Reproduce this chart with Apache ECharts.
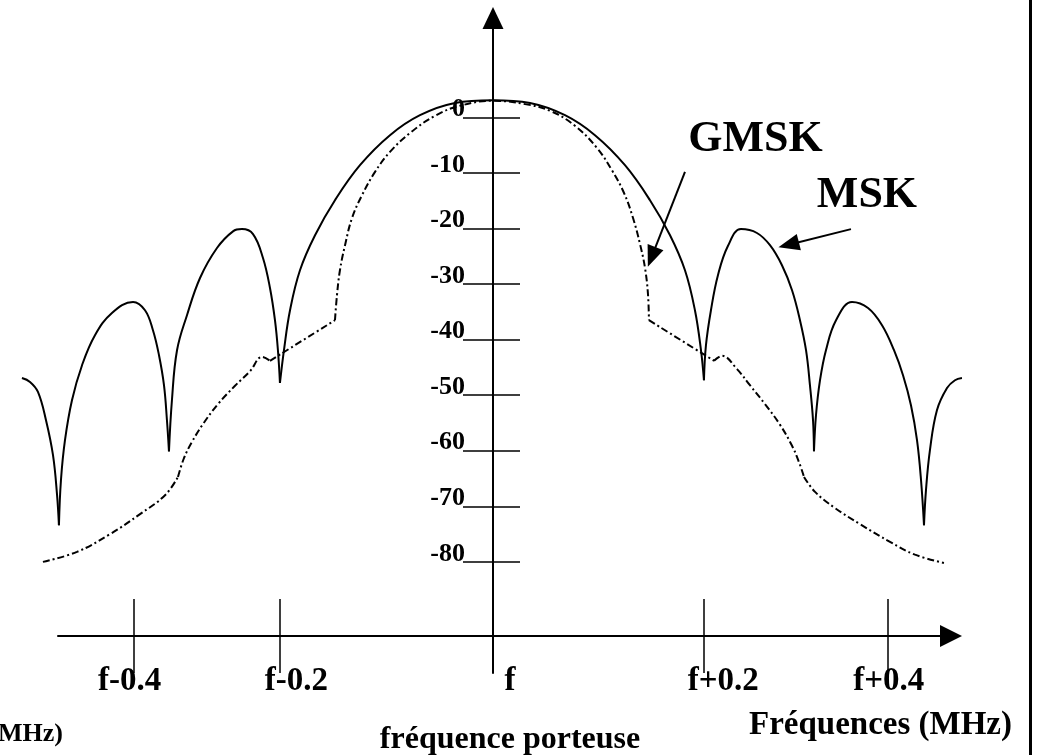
<!DOCTYPE html>
<html>
<head>
<meta charset="utf-8">
<script src="https://cdn.jsdelivr.net/npm/echarts@6/dist/echarts.min.js"></script>
<style>
html,body{margin:0;padding:0;background:#fff;}
#c{width:1037px;height:755px;}
</style>
</head>
<body>
<div id="c"></div>
<script>
// x: frequency offset from the carrier f (MHz, as drawn); y: level (dB)
const xTickValues  = [-0.3390, -0.2006, 0.1991, 0.3730];
const xLabelValues = [-0.3424, -0.1852, 0.0164, 0.2177, 0.3737];
const xLabels      = ['f-0.4', 'f-0.2', 'f', 'f+0.2', 'f+0.4'];
const yTickValues  = [0, -10, -20, -30, -40, -50, -60, -70, -80];

// MSK spectrum (solid), one array per lobe
const mskTailLeft = [[-0.4440,-46.9],[-0.4364,-47.6],[-0.4289,-49.4],[-0.4213,-54.5],[-0.4147,-60.8],[-0.4109,-67.9],[-0.4091,-73.4]];
const mskLobeL2   = [[-0.4091,-73.4],[-0.4072,-65.3],[-0.4034,-58.1],[-0.3968,-50.9],[-0.3873,-44.6],[-0.3751,-39.2],[-0.3591,-35.2],[-0.3392,-33.2],[-0.3279,-34.7],[-0.3204,-38.3],[-0.3147,-42.8],[-0.3100,-48.2],[-0.3072,-54.5],[-0.3053,-60.1]];
const mskLobeL1   = [[-0.3053,-60.1],[-0.3025,-50.9],[-0.2977,-41.9],[-0.2883,-35.6],[-0.2760,-28.9],[-0.2600,-23.5],[-0.2449,-20.5],[-0.2364,-20.1],[-0.2260,-21.0],[-0.2166,-25.3],[-0.2100,-30.7],[-0.2053,-36.5],[-0.2025,-41.9],[-0.2006,-47.8]];
const mskMainLobe = [[-0.2006,-47.8],[-0.1968,-41.9],[-0.1911,-34.7],[-0.1817,-27.5],[-0.1675,-21.2],[-0.1487,-14.9],[-0.1251,-8.6],[-0.0968,-3.2],[-0.0685,0.4],[-0.0355,2.6],[0.0000,3.1],[0.0353,2.6],[0.0683,0.4],[0.0966,-3.2],[0.1249,-8.6],[0.1485,-14.9],[0.1674,-21.2],[0.1815,-27.5],[0.1909,-34.7],[0.1966,-41.9],[0.1994,-47.3]];
const mskLobeR1   = [[0.1994,-47.3],[0.2013,-41.0],[0.2060,-34.7],[0.2126,-28.4],[0.2221,-23.1],[0.2343,-20.1],[0.2494,-20.8],[0.2617,-23.0],[0.2730,-26.6],[0.2825,-31.1],[0.2900,-36.5],[0.2957,-41.9],[0.2994,-48.2],[0.3023,-54.5],[0.3032,-60.1]];
const mskLobeR2   = [[0.3032,-60.1],[0.3051,-53.6],[0.3089,-47.3],[0.3145,-41.9],[0.3240,-36.5],[0.3391,-33.2],[0.3542,-34.3],[0.3674,-37.4],[0.3787,-41.9],[0.3872,-46.4],[0.3947,-51.8],[0.4004,-58.1],[0.4042,-65.3],[0.4070,-73.4]];
const mskTailRight= [[0.4070,-73.4],[0.4089,-67.0],[0.4126,-59.9],[0.4192,-52.7],[0.4287,-48.7],[0.4362,-47.3],[0.4428,-46.9]];

// GMSK spectrum (dash-dot), one array per drawn stroke
const gmskOuterLeft    = [[-0.4242,-80.0],[-0.3921,-78.2],[-0.3609,-75.0],[-0.3326,-71.4],[-0.3090,-68.0],[-0.2968,-64.7]];
const gmskShoulderLeft = [[-0.2968,-64.7],[-0.2911,-61.3],[-0.2836,-58.4],[-0.2732,-55.2],[-0.2591,-51.6],[-0.2430,-48.3],[-0.2289,-45.7],[-0.2175,-43.1],[-0.2100,-43.8]];
const gmskStepLeft     = [[-0.2100,-43.8],[-0.1487,-36.5]];
const gmskMainLobe     = [[-0.1487,-36.5],[-0.1468,-32.0],[-0.1440,-27.5],[-0.1392,-23.0],[-0.1326,-18.1],[-0.1232,-14.0],[-0.1109,-9.8],[-0.0968,-6.2],[-0.0779,-2.8],[-0.0543,0.3],[-0.0308,2.1],[0.0004,3.0],[0.0306,2.4],[0.0542,1.2],[0.0777,-1.5],[0.0985,-5.5],[0.1126,-9.5],[0.1240,-13.6],[0.1325,-18.1],[0.1391,-22.8],[0.1438,-27.1],[0.1466,-31.8],[0.1475,-36.5]];
const gmskStepRight    = [[0.1475,-36.5],[0.2089,-43.8]];
const gmskShoulderRight= [[0.2089,-43.8],[0.2164,-42.9],[0.2306,-45.3],[0.2428,-48.2],[0.2570,-51.6],[0.2711,-55.3],[0.2825,-59.1],[0.2890,-62.0],[0.2938,-64.7]];
const gmskOuterRight   = [[0.2938,-64.7],[0.3042,-67.4],[0.3230,-70.3],[0.3466,-73.2],[0.3749,-76.4],[0.3985,-78.7],[0.4258,-80.2]];

// annotations (data coordinates)
const gmskLabelAt = [0.2480, -4.0];
const mskLabelAt  = [0.3532, -14.1];
const gmskArrow   = [[0.1815, -9.8], [0.1501, -25.1]];
const mskArrow    = [[0.3381, -20.1], [0.2793, -22.9]];

const FONT = '"Liberation Serif", "Times New Roman", Times, serif';
const chart = echarts.init(document.getElementById('c'), null, {renderer: 'canvas'});

// grid 0 carries the drawn axes; grid 1 spans the whole page with the same scale
// so that the curves may run past the ends of the drawn axis line
function stroke(data, dashed) {
  return {
    type: 'line', data: data, xAxisIndex: 2, yAxisIndex: 2,
    showSymbol: false, symbol: 'none', silent: true, clip: false,
    smooth: 0.4,
    lineStyle: dashed ? {color: '#000', width: 2, type: [7, 3, 2, 3]} : {color: '#000', width: 2}
  };
}

const mskStrokes  = [mskTailLeft, mskLobeL2, mskLobeL1, mskMainLobe, mskLobeR1, mskLobeR2, mskTailRight];
const gmskStrokes = [gmskOuterLeft, gmskShoulderLeft, gmskStepLeft, gmskMainLobe, gmskStepRight, gmskShoulderRight, gmskOuterRight];

const series = mskStrokes.map(d => stroke(d, false)).concat(gmskStrokes.map(d => stroke(d, true)));
series.push({
  type: 'line', data: [], xAxisIndex: 2, yAxisIndex: 2, silent: true,
  markLine: {
    silent: true, animation: false,
    symbol: ['none', 'triangle'], symbolSize: [17, 21],
    lineStyle: {color: '#000', width: 2, type: 'solid'},
    label: {show: false},
    data: [
      [{coord: gmskArrow[0]}, {coord: gmskArrow[1]}],
      [{coord: mskArrow[0]}, {coord: mskArrow[1]}]
    ]
  },
  markPoint: {
    silent: true, animation: false,
    symbol: 'circle', symbolSize: 0,
    itemStyle: {color: 'rgba(0,0,0,0)'},
    label: {show: true, position: 'inside', formatter: p => p.name,
            fontFamily: FONT, fontWeight: 'bold', fontSize: 44, color: '#000'},
    data: [
      {name: 'GMSK', coord: gmskLabelAt},
      {name: 'MSK', coord: mskLabelAt}
    ]
  }
});

const xBase = {type: 'value', min: -0.41, max: 0.4325, splitLine: {show: false}};
const yBase = {type: 'value', min: -100, max: 17.9, splitLine: {show: false}};
const hidden = {axisLine: {show: false}, axisTick: {show: false}, axisLabel: {show: false}, splitLine: {show: false}};

chart.setOption({
  animation: false,
  backgroundColor: '#fff',
  grid: [
    {left: 58, right: 86, top: 18, bottom: 82, containLabel: false, outerBoundsMode: 'none'},
    {left: 0, right: 0, top: 18, bottom: 82, containLabel: false, outerBoundsMode: 'none'}
  ],
  xAxis: [
    Object.assign({}, xBase, {
      gridIndex: 0, position: 'bottom', offset: -37,
      axisLine: {show: true, onZero: false, symbol: ['none', 'triangle'], symbolSize: [22, 22],
                 lineStyle: {color: '#000', width: 2}},
      axisTick: {show: true, inside: false, length: 37, customValues: xTickValues,
                 lineStyle: {color: '#000', width: 1.5}},
      axisLabel: {show: true, customValues: xLabelValues, margin: 29, lineHeight: 33,
                  formatter: v => xLabels[xLabelValues.indexOf(v)],
                  fontFamily: FONT, fontWeight: 'bold', fontSize: 33, color: '#000'}
    }),
    Object.assign({}, xBase, {
      gridIndex: 0, position: 'top', offset: -618,
      axisLine: {show: false, onZero: false},
      axisTick: {show: true, inside: false, length: 37, customValues: xTickValues,
                 lineStyle: {color: '#000', width: 1.5}},
      axisLabel: {show: false}
    }),
    Object.assign({type: 'value', gridIndex: 1, min: -0.4647, max: 0.5136}, hidden)
  ],
  yAxis: [
    Object.assign({}, yBase, {
      gridIndex: 0, position: 'left', offset: -435,
      axisLine: {show: true, onZero: false, symbol: ['none', 'triangle'], symbolSize: [21, 22],
                 lineStyle: {color: '#000', width: 2}},
      axisTick: {show: true, inside: false, length: 30, customValues: yTickValues,
                 lineStyle: {color: '#000', width: 1.5}},
      axisLabel: {show: true, customValues: yTickValues, margin: 28, lineHeight: 16, verticalAlign: 'bottom',
                  fontFamily: FONT, fontWeight: 'bold', fontSize: 26, color: '#000'}
    }),
    Object.assign({}, yBase, {
      gridIndex: 0, position: 'right', offset: -458,
      axisLine: {show: false, onZero: false},
      axisTick: {show: true, inside: false, length: 27, customValues: yTickValues,
                 lineStyle: {color: '#000', width: 1.5}},
      axisLabel: {show: false}
    }),
    Object.assign({type: 'value', gridIndex: 1, min: -100, max: 17.9}, hidden)
  ],
  graphic: [
    {type: 'text', silent: true, style: {text: 'fréquence porteuse', x: 510, y: 740, align: 'center', verticalAlign: 'middle',
      font: 'bold 32px ' + FONT, fill: '#000'}},
    {type: 'text', silent: true, style: {text: 'Fréquences (MHz)', x: 1012, y: 725, align: 'right', verticalAlign: 'middle',
      font: 'bold 33px ' + FONT, fill: '#000'}},
    {type: 'text', silent: true, style: {text: 'Fréquences (MHz)', x: 63, y: 734, align: 'right', verticalAlign: 'middle',
      font: 'bold 26px ' + FONT, fill: '#000'}},
    {type: 'rect', silent: true, shape: {x: 1029, y: 0, width: 3, height: 755}, style: {fill: '#000'}}
  ],
  series: series
});
</script>
</body>
</html>
